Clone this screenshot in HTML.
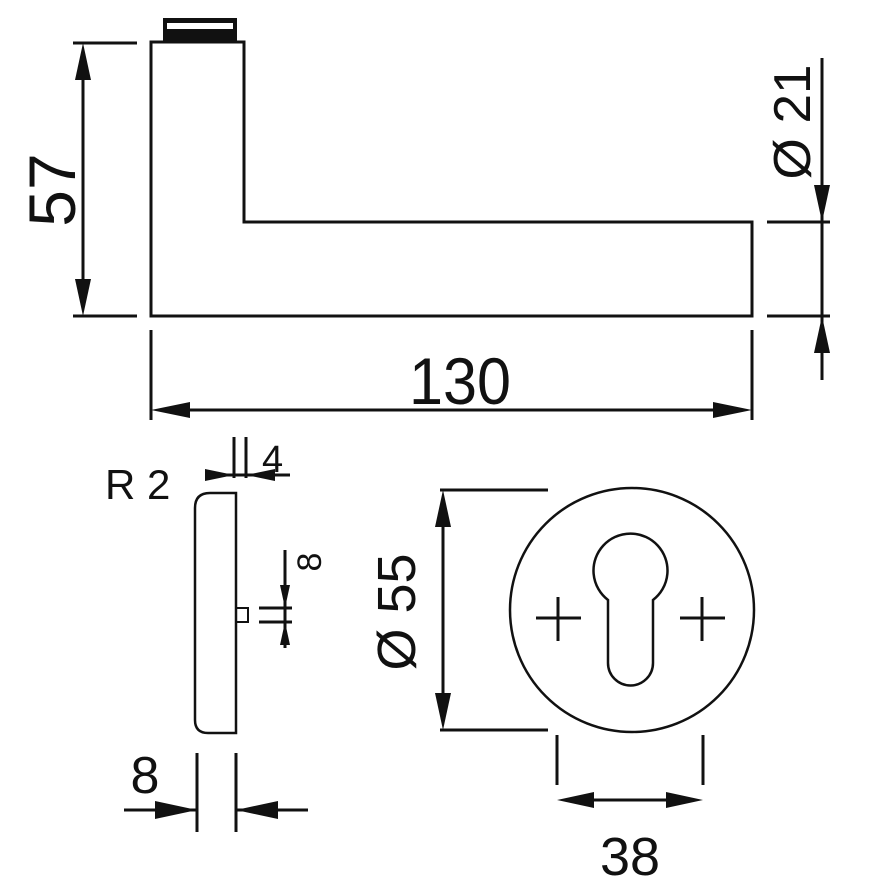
<!DOCTYPE html>
<html><head><meta charset="utf-8"><style>
html,body{margin:0;padding:0;background:#fff}
svg{display:block}
text{font-family:"Liberation Sans",sans-serif;fill:#111}
</style></head><body>
<svg width="870" height="881" viewBox="0 0 870 881" xmlns="http://www.w3.org/2000/svg">
<g stroke="#111" fill="none" stroke-width="3">
<path d="M151 316 V42 H244 V222 H752 V316 Z"/>
<line x1="73" y1="43" x2="137" y2="43"/>
<line x1="73" y1="316" x2="137" y2="316"/>
<line x1="83" y1="60" x2="83" y2="300"/>
<line x1="151" y1="330" x2="151" y2="420"/>
<line x1="752" y1="330" x2="752" y2="420"/>
<line x1="170" y1="410" x2="735" y2="410"/>
<line x1="767" y1="222" x2="830" y2="222"/>
<line x1="767" y1="316" x2="830" y2="316"/>
<line x1="822" y1="58" x2="822" y2="380"/>
<path d="M236 493 V733 H208 Q195 733 195 720 V508 Q195 493 210 493 Z" stroke-width="2.5"/>
<rect x="236" y="608" width="12" height="14" stroke-width="2"/>
<line x1="234" y1="437" x2="234" y2="478"/>
<line x1="246" y1="437" x2="246" y2="478"/>
<line x1="205" y1="475" x2="290" y2="475"/>
<line x1="259" y1="608" x2="292" y2="608"/>
<line x1="259" y1="622" x2="292" y2="622"/>
<line x1="285" y1="550" x2="285" y2="648"/>
<line x1="197" y1="753" x2="197" y2="832"/>
<line x1="236" y1="753" x2="236" y2="832"/>
<line x1="124" y1="810" x2="197" y2="810"/>
<line x1="236" y1="810" x2="308" y2="810"/>
<circle cx="632" cy="610" r="122" stroke-width="2.5"/>
<path d="M608 600 A37 37 0 1 1 653 600 V663 A22.5 22.5 0 0 1 608 663 Z" stroke-width="2.5"/>
<line x1="536" y1="618" x2="581" y2="618"/><line x1="558" y1="597" x2="558" y2="641"/>
<line x1="680" y1="618" x2="725" y2="618"/><line x1="702" y1="597" x2="702" y2="641"/>
<line x1="440" y1="490" x2="548" y2="490"/>
<line x1="440" y1="730" x2="548" y2="730"/>
<line x1="443" y1="505" x2="443" y2="715"/>
<line x1="557" y1="735" x2="557" y2="785"/>
<line x1="703" y1="735" x2="703" y2="785"/>
<line x1="570" y1="800" x2="690" y2="800"/>
</g>
<rect x="163" y="18" width="74" height="25" fill="#111"/>
<rect x="167" y="23" width="66" height="6" fill="#fff"/>
<g fill="#111">
<polygon points="83,43 75,80 91,80"/>
<polygon points="83,316 75,279 91,279"/>
<polygon points="151,410 190,402 190,418"/>
<polygon points="752,410 713,402 713,418"/>
<polygon points="822,222 814,185 830,185"/>
<polygon points="822,316 814,353 830,353"/>
<polygon points="234,475 205,469 205,481"/>
<polygon points="246,475 275,469 275,481"/>
<polygon points="285,608 280,585 290,585"/>
<polygon points="285,622 280,645 290,645"/>
<polygon points="197,810 155,801 155,819"/>
<polygon points="236,810 278,801 278,819"/>
<polygon points="443,490 435,527 451,527"/>
<polygon points="443,730 435,693 451,693"/>
<polygon points="557,800 594,792 594,808"/>
<polygon points="703,800 666,792 666,808"/>
</g>
<g>
<text x="0" y="0" font-size="66" text-anchor="middle" transform="translate(75 190) rotate(-90)">57</text>
<text x="460" y="404" font-size="66" text-anchor="middle" textLength="102" lengthAdjust="spacingAndGlyphs">130</text>
<text x="0" y="0" font-size="52" text-anchor="middle" transform="translate(810 122) rotate(-90)" textLength="115" lengthAdjust="spacingAndGlyphs">Ø 21</text>
<text x="105" y="499" font-size="42">R 2</text>
<text x="262" y="472" font-size="38">4</text>
<text x="0" y="0" font-size="34" text-anchor="middle" transform="translate(321 562) rotate(-90)">8</text>
<text x="145" y="793" font-size="52" text-anchor="middle">8</text>
<text x="0" y="0" font-size="54" text-anchor="middle" transform="translate(415 612) rotate(-90)">Ø 55</text>
<text x="630" y="875" font-size="54" text-anchor="middle">38</text>
</g>
</svg>
</body></html>
